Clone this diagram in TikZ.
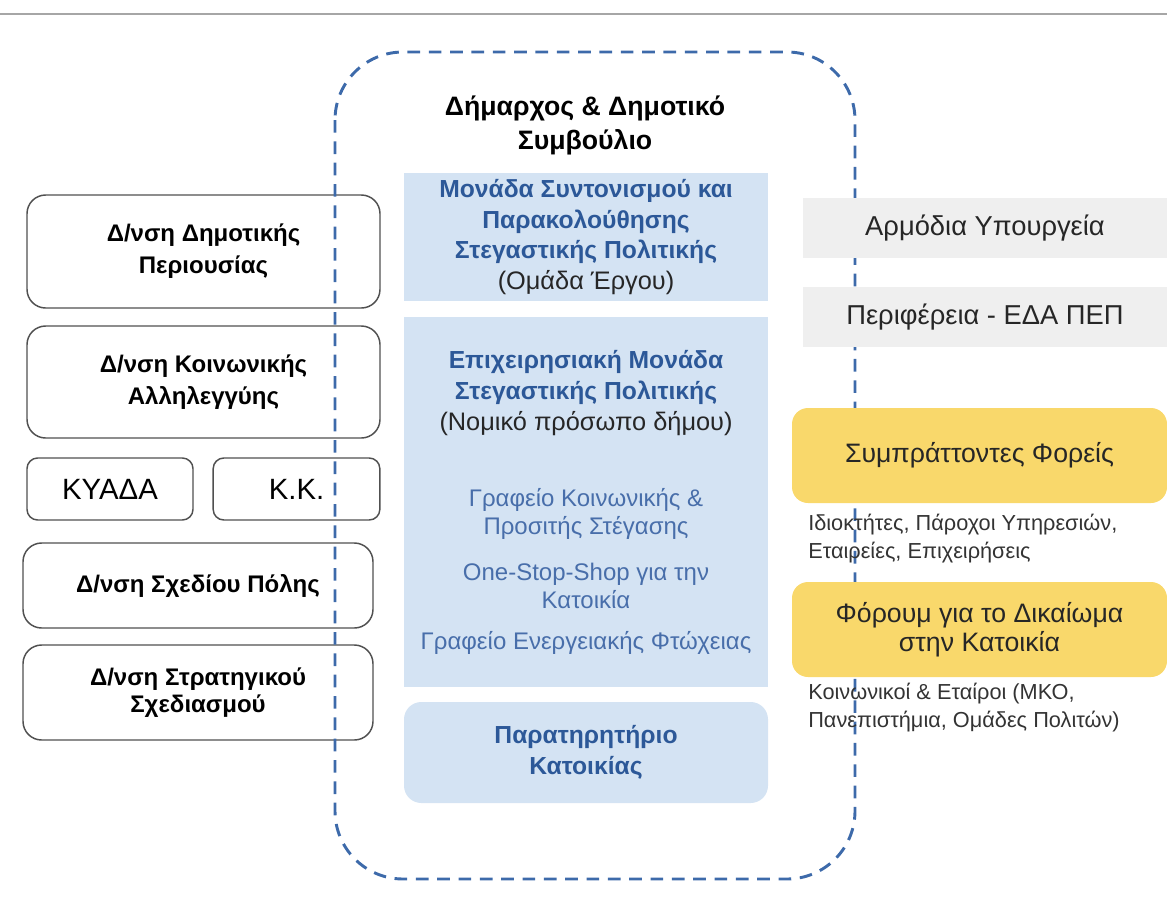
\documentclass[tikz,border=0pt]{standalone}
\usepackage{fontspec}
\setmainfont{Liberation Sans}

\definecolor{dashblue}{RGB}{61,106,170}
\definecolor{unitfill}{RGB}{212,227,243}
\definecolor{headblue}{RGB}{44,88,152}
\definecolor{itemblue}{RGB}{72,110,170}
\definecolor{greyfill}{RGB}{239,239,239}
\definecolor{partfill}{RGB}{249,216,107}
\definecolor{rimgrey}{RGB}{80,80,80}

\tikzset{
  deptbox/.style={draw=rimgrey, line width=1.1pt, rounded corners=14pt, align=center, inner sep=0pt, font=\bfseries\fontsize{18}{24}\selectfont},
  smallbox/.style={draw=rimgrey, line width=1.1pt, rounded corners=8pt, inner sep=0pt, minimum width=125pt, minimum height=46.5pt, font=\fontsize{22}{26}\selectfont},
  unitbox/.style={fill=unitfill, inner sep=0pt, minimum width=273pt, align=center, text=headblue, font=\bfseries\fontsize{18.5}{23}\selectfont},
  itemtext/.style={align=center, inner sep=0pt, text=itemblue, font=\fontsize{18}{21}\selectfont},
  extbox/.style={fill=greyfill, inner sep=0pt, minimum width=273pt, minimum height=45pt, text=black!85, font=\fontsize{20.5}{24}\selectfont},
  partbox/.style={fill=partfill, rounded corners=12pt, inner sep=0pt, minimum width=281.25pt, minimum height=71.25pt, align=center, text=black!85, font=\fontsize{20}{21.5}\selectfont},
  notetext/.style={anchor=west, align=left, inner sep=0pt, text=black!80, font=\fontsize{16.3}{20.5}\selectfont},
  council/.style={draw=dashblue, line width=2.2pt, dash pattern=on 9.5pt off 6.5pt, rounded corners=51pt}
}
\newcommand{\subline}[1]{{\mdseries\fontsize{19}{23}\selectfont\color{black!85}#1}}

\begin{document}
\begin{tikzpicture}[x=0.75pt,y=0.75pt,yscale=-1,xscale=1]
\useasboundingbox (0,0) rectangle (1167,922);

%Straight Lines
\draw [color=black!35, line width=1.5pt] (0,14) -- (1167,14) ;

%Shape: Rounded Rect (left column)
\node [deptbox, minimum width=264.75pt, minimum height=84.75pt] (propDir) at (203.5,251.5) {Δ/νση Δημοτικής\\Περιουσίας};
\node [deptbox, minimum width=264.75pt, minimum height=84pt] (socDir) at (203.5,382) {Δ/νση Κοινωνικής\\Αλληλεγγύης};
\node [smallbox, minimum width=124.5pt] (kyada) at (110,489) {ΚΥΑΔΑ};
\node [smallbox] (kk) at (296.5,489) {Κ.Κ.};
\node [deptbox, minimum width=262.5pt, minimum height=63.75pt] (planDir) at (198,585.5) {Δ/νση Σχεδίου Πόλης};
\node [deptbox, minimum width=262.5pt, minimum height=71.25pt, font=\bfseries\fontsize{18}{20.5}\selectfont] (stratDir) at (198,692.5) {Δ/νση Στρατηγικού\\Σχεδιασμού};

%Shape: Rounded Rect (dashed frame)
\draw [council] (335,52) rectangle (855,879) ;

% Text Node
\node [align=center, inner sep=0pt, font=\bfseries\fontsize{20}{25.5}\selectfont] (mayor) at (585,125) {Δήμαρχος \& Δημοτικό\\Συμβούλιο};

%Shape: Rectangle (central units)
\node [unitbox, minimum height=96pt] (coordUnit) at (586,237) {Μονάδα Συντονισμού και\\Παρακολούθησης\\Στεγαστικής Πολιτικής\\\subline{(Ομάδα Έργου)}};
\node [unitbox, minimum height=277.5pt] (operUnit) at (586,502) {};
\node [unitbox, minimum height=75.75pt, rounded corners=13pt] (observ) at (586,752.5) {Παρατηρητήριο\\Κατοικίας};

% Text Node
\node [align=center, inner sep=0pt, text=headblue, font=\bfseries\fontsize{18.5}{23}\selectfont] (operHead) at (586,393) {Επιχειρησιακή Μονάδα\\Στεγαστικής Πολιτικής\\\subline{(Νομικό πρόσωπο δήμου)}};
% Text Node
\node [itemtext] (socOffice) at (586,514) {Γραφείο Κοινωνικής \&\\Προσιτής Στέγασης};
% Text Node
\node [itemtext] (oneStop) at (586,586) {One-Stop-Shop για την\\Κατοικία};
% Text Node
\node [itemtext] (energyOffice) at (586,643) {Γραφείο Ενεργειακής Φτώχειας};

%Shape: Rectangle (right column)
\node [extbox] (ministries) at (985,228) {Αρμόδια Υπουργεία};
\node [extbox] (region) at (985,317) {Περιφέρεια - ΕΔΑ ΠΕΠ};
\node [partbox] (partners) at (979.5,455.5) {Συμπράττοντες Φορείς};
\node [partbox] (forum) at (979.5,629.5) {Φόρουμ για το Δικαίωμα\\στην Κατοικία};

% Text Node
\node [notetext] (partnersNote) at (808,538.5) {Ιδιοκτήτες, Πάροχοι Υπηρεσιών,\\Εταιρείες, Επιχειρήσεις};
% Text Node
\node [notetext] (forumNote) at (808,707.5) {Κοινωνικοί \& Εταίροι (ΜΚΟ,\\Πανεπιστήμια, Ομάδες Πολιτών)};

\end{tikzpicture}
\end{document}
